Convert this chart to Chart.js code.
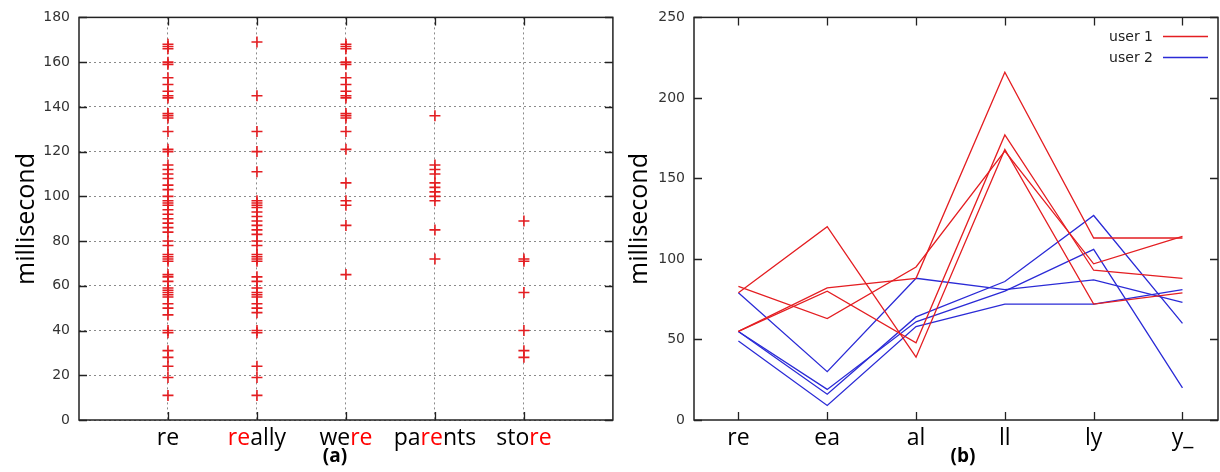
<!DOCTYPE html>
<html>
<head>
<meta charset="utf-8">
<script src="https://cdn.jsdelivr.net/npm/chart.js@4.4.1/dist/chart.umd.min.js"></script>
<style>
html, body { margin: 0; padding: 0; background: #fff; }
#wrap { position: relative; width: 1220px; height: 472px; overflow: hidden; }
#leftChart { position: absolute; left: 0; top: 0; }
#rightChart { position: absolute; left: 620px; top: 0; }
</style>
</head>
<body>
<div id="wrap">
  <canvas id="leftChart" width="620" height="472"></canvas>
  <canvas id="rightChart" width="600" height="472"></canvas>
</div>
<script>
// (a) time spent on "re" inside different words (ms)
const wordLabels = [
    [['re', 0]],
    [['re', 1], ['ally', 0]],
    [['we', 0], ['re', 1]],
    [['pa', 0], ['re', 1], ['nts', 0]],
    [['sto', 0], ['re', 1]]
];
const reTimes = [168, 167, 166, 160, 159, 153, 150, 147, 145, 144, 137, 136, 135, 129, 121, 120,
    114, 112, 110, 108, 105, 103, 100, 98, 97, 96, 94, 92, 90, 88, 86, 84, 80, 78, 74, 73, 72, 71,
    65, 64, 62, 59, 58, 57, 56, 55, 52, 50, 47, 40, 39, 31, 28, 24, 19, 11];
const reallyTimes = [169, 145, 129, 120, 111, 98, 97, 96, 95, 93, 91, 89, 87, 85, 83, 80, 78,
    74, 73, 72, 71, 64, 62, 59, 57, 56, 55, 52, 50, 48, 40, 39, 24, 19, 11];
const wereTimes = [168, 167, 166, 160, 159, 153, 150, 147, 145, 144, 137, 136, 135, 129, 121,
    106, 98, 96, 87, 65];
const parentsTimes = [136, 114, 112, 110, 106, 104, 102, 100, 98, 85, 72];
const storeTimes = [89, 72, 71, 57, 40, 31, 28];
const leftYTicks = [0, 20, 40, 60, 80, 100, 120, 140, 160, 180];

// (b) bigram timings for two users (ms)
const bigrams = ['re', 'ea', 'al', 'll', 'ly', 'y_'];
const user1Runs = [
    [79, 120, 39, 168, 72, 79],
    [83, 63, 95, 167, 97, 114],
    [55, 82, 88, 216, 113, 113],
    [55, 80, 48, 177, 93, 88]
];
const user2Runs = [
    [55, 16, 64, 86, 127, 60],
    [49, 9, 58, 72, 72, 81],
    [79, 30, 88, 81, 87, 73],
    [55, 19, 61, 80, 106, 20]
];
const rightYTicks = [0, 50, 100, 150, 200, 250];

const RED = '#e41e22';
const BLUE = '#2b2bd6';

Chart.defaults.font.family = '"DejaVu Sans", sans-serif';

// frame, inward ticks, coloured word labels, axis title, caption and legend
function decorPlugin(cfg) {
    return {
        id: 'decor',
        afterDraw(chart) {
            const { ctx, chartArea: a, scales: { x, y } } = chart;
            ctx.save();
            ctx.strokeStyle = '#222';
            ctx.lineWidth = 1.5;
            ctx.strokeRect(a.left, a.top, a.right - a.left, a.bottom - a.top);

            ctx.lineWidth = 1.3;
            ctx.beginPath();
            y.ticks.forEach(t => {
                const py = Math.round(y.getPixelForValue(t.value)) + 0.5;
                ctx.moveTo(a.left, py); ctx.lineTo(a.left + 8, py);
                ctx.moveTo(a.right, py); ctx.lineTo(a.right - 8, py);
            });
            x.ticks.forEach(t => {
                const px = Math.round(x.getPixelForValue(t.value)) + 0.5;
                ctx.moveTo(px, a.top); ctx.lineTo(px, a.top + 8);
                ctx.moveTo(px, a.bottom); ctx.lineTo(px, a.bottom - 8);
            });
            ctx.stroke();

            // category labels, "re" parts in red
            ctx.font = '23px "Open Sans"';
            ctx.textAlign = 'left';
            ctx.textBaseline = 'alphabetic';
            cfg.labels.forEach((parts, i) => {
                const cx = x.getPixelForValue(cfg.labelValues[i]);
                const total = parts.reduce((s, p) => s + ctx.measureText(p[0]).width, 0);
                let px = cx - total / 2;
                parts.forEach(p => {
                    ctx.fillStyle = p[1] ? '#ff0000' : '#000';
                    ctx.fillText(p[0], px, 445);
                    px += ctx.measureText(p[0]).width;
                });
            });

            // y title
            ctx.save();
            ctx.translate(cfg.titleX, 219);
            ctx.rotate(-Math.PI / 2);
            ctx.textAlign = 'center';
            ctx.fillStyle = '#000';
            ctx.font = '25px "Open Sans"';
            ctx.fillText('millisecond', 0, 0);
            ctx.restore();

            // caption
            ctx.font = 'bold 19px "Open Sans"';
            ctx.textAlign = 'center';
            ctx.fillStyle = '#000';
            ctx.fillText(cfg.caption, cfg.captionX, 462);

            if (cfg.legend) {
                ctx.font = '14px "DejaVu Sans"';
                ctx.textAlign = 'right';
                ctx.textBaseline = 'middle';
                ctx.fillStyle = '#222';
                ctx.lineWidth = 1.3;
                [['user 1', RED, 37], ['user 2', BLUE, 58]].forEach(([txt, col, ly]) => {
                    ctx.fillText(txt, 533, ly);
                    ctx.strokeStyle = col;
                    ctx.beginPath();
                    ctx.moveTo(543, ly - 0.5);
                    ctx.lineTo(588, ly - 0.5);
                    ctx.stroke();
                });
            }
            ctx.restore();
        }
    };
}

// left chart: scatter of crosses
const leftSeries = [reTimes, reallyTimes, wereTimes, parentsTimes, storeTimes];
const leftPoints = [];
leftSeries.forEach((vals, i) => {
    vals.forEach(v => leftPoints.push({ x: i + 1, y: v }));
});

new Chart(document.getElementById('leftChart'), {
    type: 'scatter',
    data: {
        datasets: [{
            data: leftPoints,
            pointStyle: 'cross',
            pointRadius: 5.5,
            borderColor: RED,
            borderWidth: 1.6
        }]
    },
    options: {
        responsive: false,
        animation: false,
        events: [],
        layout: { padding: { top: 17, right: 4, left: 0, bottom: 0 } },
        plugins: { legend: { display: false }, tooltip: { enabled: false } },
        scales: {
            x: {
                type: 'linear', min: 0, max: 6,
                afterBuildTicks: ax => { ax.ticks = wordLabels.map((w, i) => ({ value: i + 1 })); },
                afterFit: ax => { ax.height = 52; },
                ticks: { display: false },
                grid: { color: '#8a8a8a', lineWidth: 1, drawTicks: false },
                border: { display: false, dash: [2, 3] }
            },
            y: {
                min: 0, max: 180,
                afterBuildTicks: ax => { ax.ticks = leftYTicks.map(v => ({ value: v })); },
                afterFit: ax => { ax.width = 79; },
                ticks: { color: '#333', padding: 9, font: { size: 14 } },
                grid: { color: '#8a8a8a', lineWidth: 1, drawTicks: false },
                border: { display: false, dash: [2, 3] }
            }
        }
    },
    plugins: [decorPlugin({
        labels: wordLabels,
        labelValues: [1, 2, 3, 4, 5],
        titleX: 34,
        caption: '(a)',
        captionX: 335,
        legend: false
    })]
});

// right chart: one line per typing sample
const rightSets = [];
user1Runs.forEach(run => rightSets.push({
    data: run.map((v, i) => ({ x: i, y: v })),
    borderColor: RED, borderWidth: 1.3, showLine: true, pointRadius: 0
}));
user2Runs.forEach(run => rightSets.push({
    data: run.map((v, i) => ({ x: i, y: v })),
    borderColor: BLUE, borderWidth: 1.3, showLine: true, pointRadius: 0
}));

new Chart(document.getElementById('rightChart'), {
    type: 'scatter',
    data: { datasets: rightSets },
    options: {
        responsive: false,
        animation: false,
        events: [],
        layout: { padding: { top: 17, right: 2, left: 0, bottom: 0 } },
        plugins: { legend: { display: false }, tooltip: { enabled: false } },
        scales: {
            x: {
                type: 'linear', min: -0.5, max: 5.4,
                afterBuildTicks: ax => { ax.ticks = bigrams.map((b, i) => ({ value: i })); },
                afterFit: ax => { ax.height = 52; },
                ticks: { display: false },
                grid: { display: false, drawTicks: false },
                border: { display: false }
            },
            y: {
                min: 0, max: 250,
                afterBuildTicks: ax => { ax.ticks = rightYTicks.map(v => ({ value: v })); },
                afterFit: ax => { ax.width = 74; },
                ticks: { color: '#333', padding: 9, font: { size: 14 } },
                grid: { display: false, drawTicks: false },
                border: { display: false }
            }
        }
    },
    plugins: [decorPlugin({
        labels: bigrams.map(b => [[b, 0]]),
        labelValues: [0, 1, 2, 3, 4, 5],
        titleX: 27,
        caption: '(b)',
        captionX: 343,
        legend: true
    })]
});
</script>
</body>
</html>
